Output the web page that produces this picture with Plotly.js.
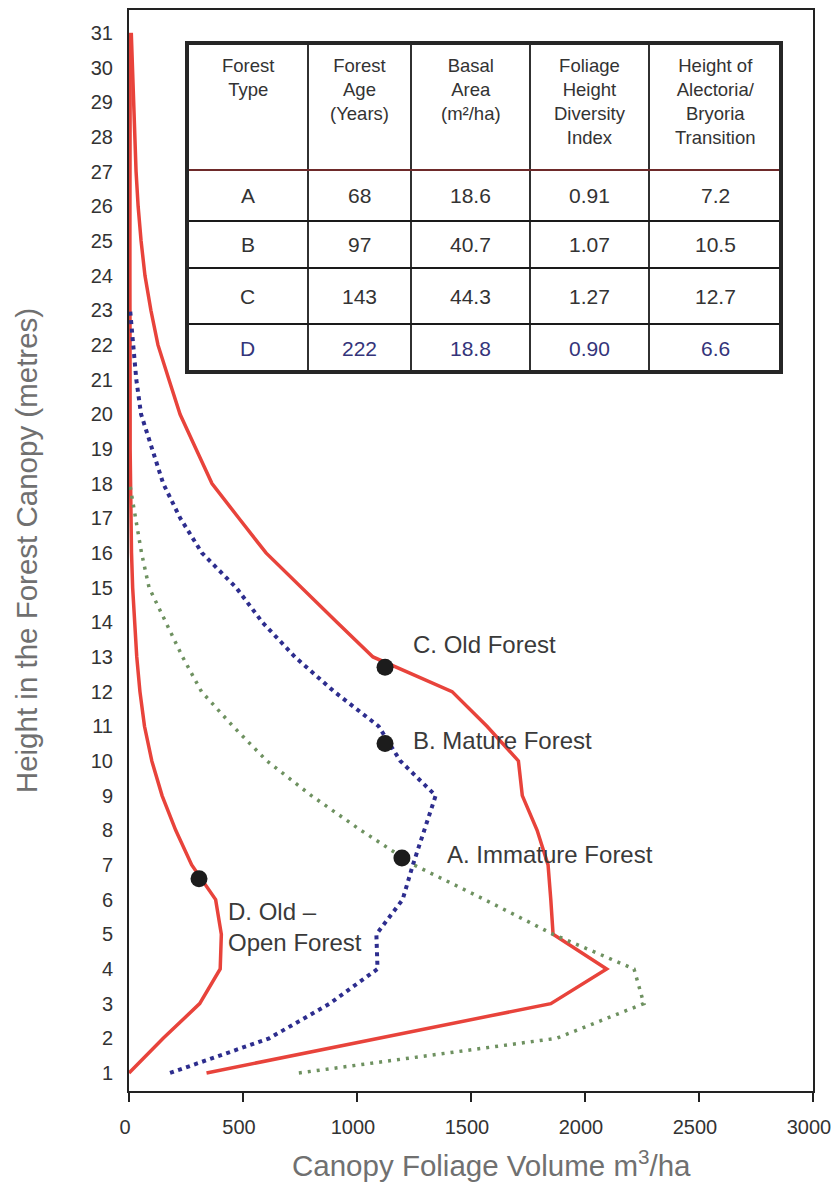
<!DOCTYPE html>
<html>
<head>
<meta charset="utf-8">
<script src="https://cdn.plot.ly/plotly-3.0.1.min.js"></script>
<style>
  html, body { margin: 0; padding: 0; background: #ffffff; }
  #chart { width: 832px; height: 1191px; }
</style>
</head>
<body>
<div id="chart"></div>
<script>
// ---------- data ----------
const heights = [1,2,3,4,5,6,7,8,9,10,11,12,13,14,15,16,17,18,19,20,21,22,23,24,25,26,27,28,29,30,31];
// C. Old Forest (solid red)
const volOldForest = [340,1095,1850,2095,1860,1850,1838,1790,1725,1708,1570,1417,1070,912,754,601,482,364,294,224,175,127,96,70,53,40,31,26,22,18,10];
// D. Old - Open Forest (solid red)
const volOldOpenForest = [0,150,310,400,405,380,275,205,145,100,68,48,34,24,16,11,8,6,5,5,4,4,4,4,4,4,4,4,4,5,8];

const heightsMature = [1,2,3,4,5,6,7,8,9,10,11,12,13,14,15,16,17,18,19,20,21,22,23];
// B. Mature Forest (blue dotted)
const volMatureForest = [180,615,880,1090,1085,1200,1245,1295,1345,1190,1095,900,728,585,470,320,225,150,100,53,32,20,5];

const heightsImmature = [1,2,3,4,5,6,7,8,9,10,11,12,13,14,15,16,17,18];
// A. Immature Forest (green dotted)
const volImmatureForest = [745,1875,2258,2215,1860,1560,1250,1017,800,605,456,318,235,160,88,55,30,3];

// transition markers
const transitionVolume = [1197,1123,1123,307];   // A, B, C, D
// table
const tableHeaders = ["Forest<br>Type","Forest<br>Age<br>(Years)","Basal<br>Area<br>(m²/ha)","Foliage<br>Height<br>Diversity<br>Index","Height of<br>Alectoria/<br>Bryoria<br>Transition"];
const forestTypes = ["A","B","C","D"];
const forestAges = [68,97,143,222];
const basalAreas = [18.6,40.7,44.3,18.8];
const diversityIndex = [0.91,1.07,1.27,0.90];
const transitionHeights = [7.2,10.5,12.7,6.6];

const curveLabels = ["A. Immature Forest","B. Mature Forest","C. Old Forest","D. Old –<br>Open Forest"];
const xTicks = [0,500,1000,1500,2000,2500,3000];
const xTitle = "Canopy Foliage Volume m<sup>3</sup>/ha";
const yTitle = "Height in the Forest Canopy (metres)";

// ---------- layout geometry (pixels) ----------
const W = 832, H = 1191;
const M = {l:129, r:19, t:10, b:100};
const PW = W - M.l - M.r, PH = H - M.t - M.b;
const px2paper = px => (px - M.l) / PW;
const py2paper = py => (H - M.b - py) / PH;

const FONT = "Liberation Sans, Arial, Helvetica, sans-serif";
const RED = "#e8433b", BLUE = "#2d2d8e", GREEN = "#6e9160";

const traces = [
  {x: volOldOpenForest, y: heights, mode: "lines", line: {color: RED, width: 3.5}, hoverinfo: "skip"},
  {x: volOldForest, y: heights, mode: "lines", line: {color: RED, width: 3.5}, hoverinfo: "skip"},
  {x: volMatureForest, y: heightsMature, mode: "lines", line: {color: BLUE, width: 4, dash: "4px,4.5px"}, hoverinfo: "skip"},
  {x: volImmatureForest, y: heightsImmature, mode: "lines", line: {color: GREEN, width: 3.5, dash: "3px,6px"}, hoverinfo: "skip"},
  {x: transitionVolume, y: transitionHeights, mode: "markers", marker: {color: "#1c1c1c", size: 17}, hoverinfo: "skip"}
];

// ---------- table built from arrays ----------
const tblLeft = 187, tblRight = 781;
const colSeps = [308, 411, 530, 649];
const rowTop = 43, headerBottom = 170, rowLines = [221, 268, 324], tblBottom = 372;
const colEdges = [tblLeft].concat(colSeps, [tblRight]);
const rowEdges = [headerBottom].concat(rowLines, [tblBottom]);
const colCenters = colEdges.slice(0, -1).map((v, i) => (v + colEdges[i + 1]) / 2);

const shapes = [];
shapes.push({type: "rect", xref: "paper", yref: "paper", layer: "above",
  x0: px2paper(tblLeft), x1: px2paper(tblRight), y0: py2paper(tblBottom), y1: py2paper(rowTop),
  fillcolor: "#ffffff", line: {width: 0}});
colSeps.forEach(c => shapes.push({type: "line", xref: "paper", yref: "paper", layer: "above",
  x0: px2paper(c), x1: px2paper(c), y0: py2paper(tblBottom), y1: py2paper(rowTop),
  line: {color: "#1a1a1a", width: 1.8}}));
shapes.push({type: "line", xref: "paper", yref: "paper", layer: "above",
  x0: px2paper(tblLeft), x1: px2paper(tblRight), y0: py2paper(headerBottom), y1: py2paper(headerBottom),
  line: {color: "#6e2a2a", width: 2}});
rowLines.forEach(r => shapes.push({type: "line", xref: "paper", yref: "paper", layer: "above",
  x0: px2paper(tblLeft), x1: px2paper(tblRight), y0: py2paper(r), y1: py2paper(r),
  line: {color: "#1a1a1a", width: 1.8}}));
shapes.push({type: "rect", xref: "paper", yref: "paper", layer: "above",
  x0: px2paper(tblLeft), x1: px2paper(tblRight), y0: py2paper(tblBottom), y1: py2paper(rowTop),
  line: {color: "#262626", width: 4}});

const annotations = [];
tableHeaders.forEach((t, i) => annotations.push({
  xref: "paper", yref: "paper", x: px2paper(colCenters[i]), y: py2paper(53),
  xanchor: "center", yanchor: "top", align: "center", showarrow: false, text: t,
  font: {family: FONT, size: 18.5, color: "#333333"}
}));
const rowCols = [
  forestTypes,
  forestAges.map(String),
  basalAreas.map(v => v.toFixed(1)),
  diversityIndex.map(v => v.toFixed(2)),
  transitionHeights.map(v => v.toFixed(1))
];
rowCols.forEach((col, ci) => col.forEach((txt, ri) => annotations.push({
  xref: "paper", yref: "paper", x: px2paper(colCenters[ci]),
  y: py2paper((rowEdges[ri] + rowEdges[ri + 1]) / 2),
  xanchor: "center", yanchor: "middle", showarrow: false, text: txt,
  font: {family: FONT, size: 21, color: ri === 3 ? "#34347a" : "#333333"}
})));

// curve labels (data coordinates)
const labelPos = [[1386, 7.29], [1237, 10.58], [1237, 13.35], [425, 5.2]];
curveLabels.forEach((t, i) => annotations.push({
  x: labelPos[i][0], y: labelPos[i][1], xref: "x", yref: "y",
  xanchor: "left", yanchor: "middle", align: "left", showarrow: false, text: t,
  font: {family: FONT, size: 24, color: "#3a3a3a"}
}));

// x-axis title (placed as in the reference, slightly right of the plot centre)
annotations.push({
  xref: "paper", yref: "paper", x: px2paper(491), y: py2paper(1163),
  xanchor: "center", yanchor: "middle", showarrow: false, text: xTitle,
  font: {family: FONT, size: 29.5, color: "#707070"}
});

const layout = {
  width: W, height: H,
  margin: M,
  paper_bgcolor: "#ffffff", plot_bgcolor: "#ffffff",
  showlegend: false,
  font: {family: FONT, color: "#333333"},
  xaxis: {
    range: [0, 3000], tickvals: xTicks, ticktext: xTicks.map(String),
    ticks: "outside", ticklen: 9, tickwidth: 2, tickcolor: "#222222",
    ticklabelstandoff: 8, ticklabelshift: -4, ticklabeloverflow: "allow",
    showline: true, linecolor: "#222222", linewidth: 2, mirror: true,
    showgrid: false, zeroline: false,
    tickfont: {family: FONT, size: 20, color: "#333333"}
  },
  yaxis: {
    range: [0.48, 31.66], tickvals: heights, ticktext: heights.map(String),
    ticks: "", ticklabelstandoff: 10,
    showline: true, linecolor: "#222222", linewidth: 2, mirror: true,
    showgrid: false, zeroline: false,
    tickfont: {family: FONT, size: 20, color: "#333333"},
    title: {text: yTitle, font: {family: FONT, size: 29.5, color: "#707070"}, standoff: 44}
  },
  shapes: shapes,
  annotations: annotations
};

Plotly.newPlot("chart", traces, layout, {staticPlot: true, displayModeBar: false});
</script>
</body>
</html>
